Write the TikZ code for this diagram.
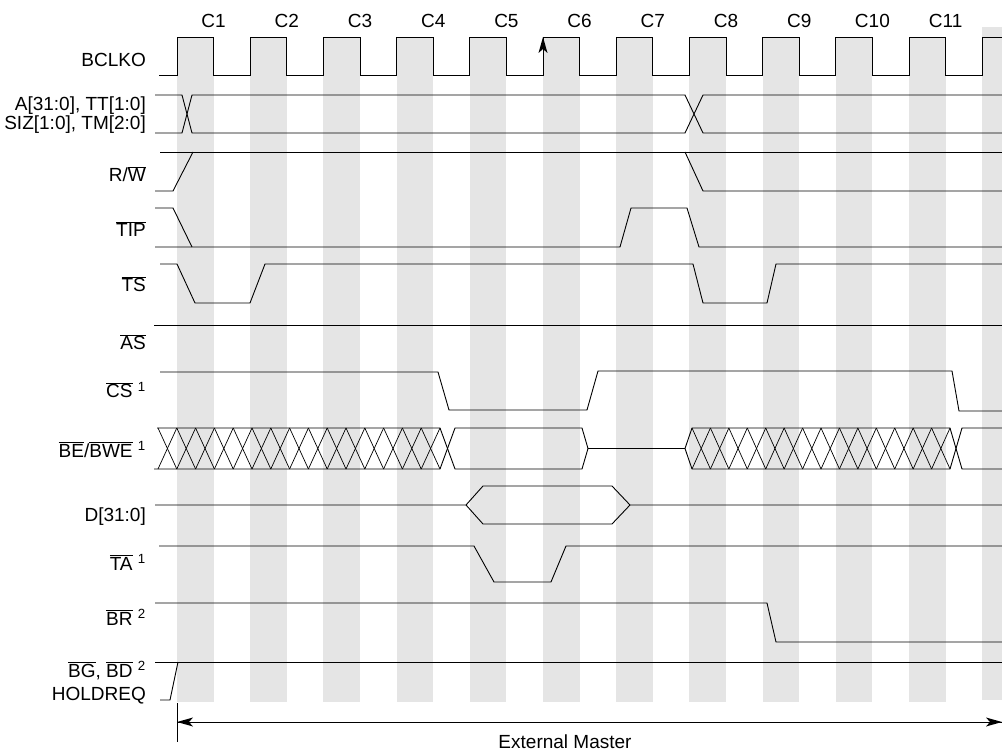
\documentclass[tikz,border=0pt]{standalone}
\usepackage{fontspec}
\setmainfont{Liberation Sans}
\definecolor{bandgray}{gray}{0.9}
\newcommand{\ovl}[1]{\(\overline{\mbox{#1}}\)}
\newcommand{\hatchbus}[5]{%
  \foreach \k in {1,...,#2} {
    \draw[hatch] ({#1+(\k-1)*#3},#4) -- ({#1+\k*#3},#5);
    \draw[hatch] ({#1+(\k-1)*#3},#5) -- ({#1+\k*#3},#4);
  }}
\tikzset{
  sig/.style={line width=0.9pt},
  hatch/.style={line width=0.7pt},
  lbl/.style={anchor=base east, inner sep=0pt},
}

\begin{document}
\begin{tikzpicture}[x=1pt, y=-1pt, font=\fontsize{19}{21}\selectfont]
    \useasboundingbox (0,0) rectangle (1002,751);
    \clip (0,0) rectangle (1002,751);
    \def\T{73.2}

    % clock high phases
    \foreach \k in {0,...,10}
        \fill[bandgray] ({177+\k*\T},37) rectangle ++(36.6,665);
    \fill[bandgray] (982.2,27) rectangle ++(36.6,673);

    % BCLKO
    \draw[sig] (159,75) -- (177,75)
        \foreach \k in {1,...,11} { -- ++(0,-38) -- ++(36.6,0) -- ++(0,38) -- ++(36.6,0) }
        -- ++(0,-38) -- (1002,37);
    \foreach \k in {1,...,11}
        \node[anchor=base, inner sep=0pt] (c\k) at ({177+(\k-1)*\T+36.6},28) {C\k};
    \coordinate (c6lo) at (543,75);
    \coordinate (c6hi) at (543,37);
    \draw[sig] (c6lo) -- (c6hi);
    \fill (c6hi) -- ++(-4.5,16) -- ++(4.5,-4) -- ++(4.5,4) -- cycle;

    % A, TT, SIZ, TM
    \draw[sig] (155,95) -- (182,95) -- (192,133) -- (685,133) -- (703,95) -- (1002,95);
    \draw[sig] (155,133) -- (182,133) -- (192,95) -- (685,95) -- (703,133) -- (1002,133);

    % R/W
    \draw[sig] (155,191) -- (173,191) -- (193,152);
    \draw[sig] (160,152) -- (1002,152);
    \draw[sig] (685,152) -- (703,191) -- (1002,191);

    % TIP
    \draw[sig] (155,208) -- (173,208) -- (192,247);
    \draw[sig] (155,247) -- (620,247) -- (631,208) -- (687,208) -- (699,247) -- (1002,247);

    % TS
    \draw[sig] (160,264) -- (177,264) -- (195,303) -- (250,303) -- (265,264) -- (693,264)
        -- (703,303) -- (767,303) -- (776,264) -- (1002,264);

    % AS
    \draw[sig] (154,325) -- (1002,325);

    % CS
    \draw[sig] (160,372) -- (438,372) -- (449,410) -- (587,410) -- (598,371) -- (952,371)
        -- (959,411) -- (1002,411);

    % BE/BWE
    \draw[sig] (157,428) -- (440,428) -- (455,469) -- (582,469) -- (588,448.5) -- (685,448.5)
        -- (692,469) -- (950,469) -- (962,428) -- (1002,428);
    \draw[sig] (154,469) -- (440,469) -- (455,428) -- (582,428) -- (588,448.5);
    \draw[sig] (685,448.5) -- (692,428) -- (950,428) -- (962,469) -- (1002,469);
    \hatchbus{158}{15}{18.8}{428}{469}
    \hatchbus{692}{14}{18.43}{428}{469}

    % D[31:0]
    \draw[sig] (155,505) -- (466,505) -- (483,486) -- (612,486) -- (630,505) -- (1002,505);
    \draw[sig] (466,505) -- (483,524) -- (612,524) -- (630,505);

    % TA
    \draw[sig] (159,546) -- (474,546) -- (494,582) -- (551,582) -- (566,546) -- (1002,546);

    % BR
    \draw[sig] (155,603) -- (767,603) -- (776,642) -- (1002,642);

    % BG, BD, HOLDREQ
    \draw[sig] (155,662) -- (1002,662);
    \draw[sig] (160,700) -- (170,700) -- (178,662);

    % signal names
    \node[lbl] (nclk) at (146,67) {BCLKO};
    \node[lbl] (naddr) at (146,111) {A[31:0], TT[1:0]};
    \node[lbl] (nsiz) at (146,130) {SIZ[1:0], TM[2:0]};
    \node[lbl] (nrw) at (146,182) {R/\ovl{W}};
    \node[lbl] (ntip) at (146,237) {\ovl{TIP}};
    \node[lbl] (nts) at (146,292) {\ovl{TS}};
    \node[lbl] (nas) at (146,350) {\ovl{AS}};
    \node[lbl] (ncs) at (146,398) {\ovl{CS} \textsuperscript{1}};
    \node[lbl] (nbe) at (146,457) {\ovl{BE}/\ovl{BWE} \textsuperscript{1}};
    \node[lbl] (ndata) at (146,521) {D[31:0]};
    \node[lbl] (nta) at (146,570) {\ovl{TA} \textsuperscript{1}};
    \node[lbl] (nbr) at (146,625) {\ovl{BR} \textsuperscript{2}};
    \node[lbl] (nbg) at (146,677) {\ovl{BG}, \ovl{BD} \textsuperscript{2}};
    \node[lbl] (nhold) at (146,700) {HOLDREQ};

    % external master span
    \coordinate (tickA) at (177,703);
    \coordinate (tickB) at (177,742);
    \coordinate (emL) at (177,722);
    \coordinate (emR) at (1002,722);
    \draw[sig] (tickA) -- (tickB);
    \draw[sig] (emL) -- (emR);
    \fill (emL) -- ++(16,-4.5) -- ++(-4,4.5) -- ++(4,4.5) -- cycle;
    \fill (emR) -- ++(-16,-4.5) -- ++(4,4.5) -- ++(-4,4.5) -- cycle;
    \node[anchor=base, inner sep=0pt] (emtxt) at (565,748) {External Master};
\end{tikzpicture}
\end{document}
